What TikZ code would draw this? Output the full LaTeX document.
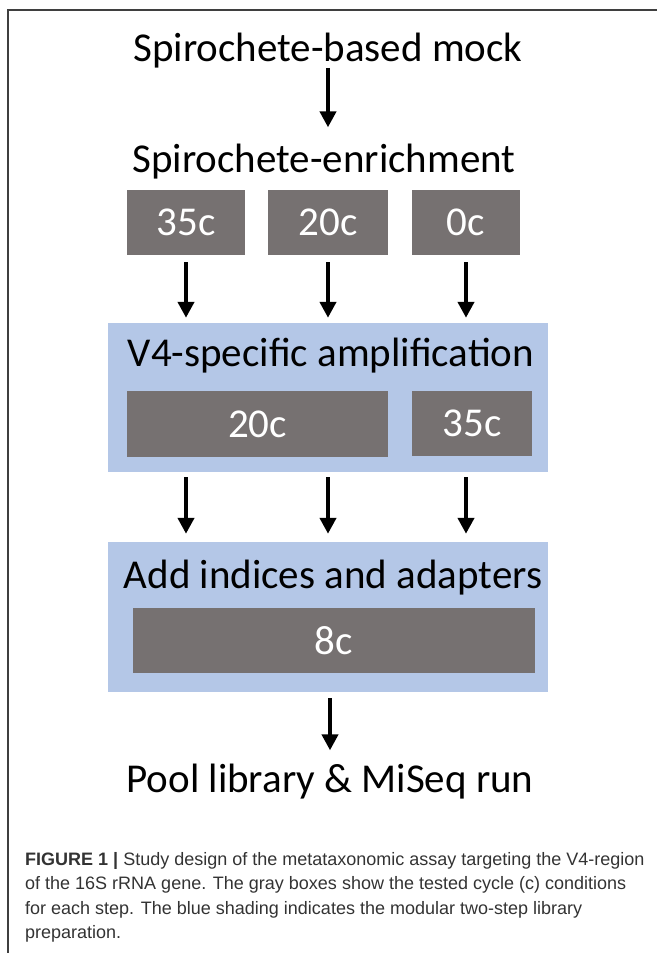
\documentclass[tikz,border=0pt]{standalone}
\usepackage{fontspec}
\setmainfont{Carlito}
\newfontfamily\capfont{Liberation Sans}
\usetikzlibrary{arrows.meta}
\definecolor{cyclegray}{HTML}{767171}
\definecolor{stepblue}{HTML}{B4C7E7}
\definecolor{framegray}{HTML}{3F3F3F}
\tikzset{
  steptext/.style={inner sep=0pt, anchor=base, font=\fontsize{41}{41}\selectfont},
  graybox/.style={fill=cyclegray, text=white, inner sep=0pt, font=\fontsize{41}{41}\selectfont},
  bluebox/.style={fill=stepblue, inner sep=0pt},
  arr/.style={-{Triangle[width=16pt,length=16pt]}, line width=4pt, black}
}
\begin{document}
\begin{tikzpicture}[x=1pt,y=-1pt]
	\useasboundingbox (0,0) rectangle (657,953);
	% frame
	\draw[framegray, line width=2pt] (7.5,953) -- (7.5,9.5) -- (657,9.5);

	\node[steptext] (mock)   at (328,61)  {Spirochete-based mock};
	\node[steptext] (enrich) at (324,172) {Spirochete-enrichment};

	\node[graybox, minimum width=118pt, minimum height=65pt] (b35) at (186,222.5) {35c};
	\node[graybox, minimum width=120pt, minimum height=65pt] (b20) at (328,222.5) {20c};
	\node[graybox, minimum width=108pt, minimum height=65pt] (b0)  at (466,222.5) {0c};

	\node[bluebox, minimum width=440pt, minimum height=149pt] (amp) at (328,397.5) {};
	\node[steptext] (amptext) at (331,366) {V4-specific amplification};
	\node[graybox, minimum width=261pt, minimum height=66pt] (a20) at (257.5,424) {20c};
	\node[graybox, minimum width=120pt, minimum height=65pt] (a35) at (472,423.5) {35c};

	\node[bluebox, minimum width=440pt, minimum height=150pt] (add) at (328,617) {};
	\node[steptext] (addtext) at (333,588) {Add indices and adapters};
	\node[graybox, minimum width=402pt, minimum height=65pt] (i8) at (334,640.5) {8c};

	\node[steptext] (pool) at (330,792) {Pool library \& MiSeq run};

	% arrows
	\draw[arr, shorten >=16pt] (mock.south) -- (mock.south |- enrich.north);
	\foreach \b in {b35,b20,b0}{
		\draw[arr, shorten <=7pt, shorten >=5pt] (\b.south) -- (\b.south |- amp.north);
		\draw[arr, shorten <=5pt, shorten >=8pt] (\b.south |- amp.south) -- (\b.south |- add.north);
	}
	\draw[arr, shorten <=6pt, shorten >=13pt] (pool.north |- add.south) -- (pool.north);

	% caption
	\node[anchor=base west, inner sep=0pt, text=black!80, align=left,
	      font=\capfont\fontsize{18}{24.5}\selectfont] (caption) at (25,938.5)
	{\textbf{FIGURE 1 |} Study design of the metataxonomic assay targeting the V4-region\\
	 of the 16S rRNA gene. The gray boxes show the tested cycle (c) conditions\\
	 for each step. The blue shading indicates the modular two-step library\\
	 preparation.};
\end{tikzpicture}
\end{document}
